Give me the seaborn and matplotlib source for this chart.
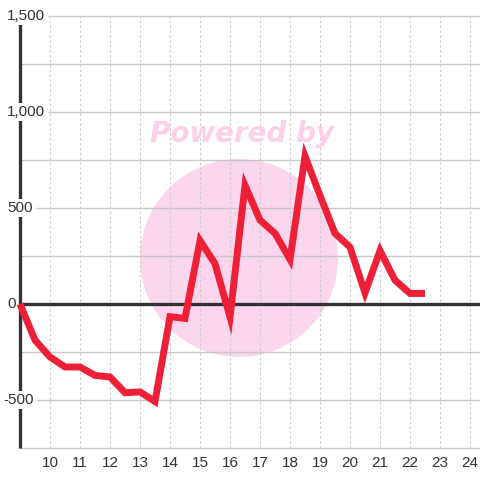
import matplotlib
matplotlib.use("Agg")
import matplotlib.pyplot as plt
import seaborn as sns
import pandas as pd
from matplotlib.patches import Circle
from matplotlib.transforms import blended_transform_factory

# ---- data ----
hours = [9, 9.5, 10, 10.5, 11, 11.5, 12, 12.5, 13, 13.5, 14, 14.5, 15, 15.5,
         16, 16.5, 17, 17.5, 18, 18.5, 19, 19.5, 20, 20.5, 21, 21.5, 22, 22.5]
values = [0, -188, -276, -328, -328, -372, -380, -462, -458, -508, -66, -75,
          330, 210, -68, 618, 437, 368, 232, 770, 565, 368, 296, 58, 278, 124, 55, 55]
x_ticks = list(range(10, 25))
x_tick_labels = [str(t) for t in x_ticks]
y_ticks = [-500, 0, 500, 1000, 1500]
y_tick_labels = ["-500", "0", "500", "1,000", "1,500"]
minor_levels = [-750, -250, 250, 750, 1250]

sns.set_theme(style="white")
plt.rcParams['font.family'] = ['Liberation Sans', 'DejaVu Sans']

W = H = 480
fig = plt.figure(figsize=(4.8, 4.8), dpi=100)
fig.patch.set_facecolor("white")
ax = fig.add_axes([20 / W, 32 / H, 460 / W, 432 / H])
ax.set_facecolor("white")
xmin, xmax = 9, 9 + 460 / 30
ax.set_xlim(xmin, xmax)
ax.set_ylim(-750, 1500)
for s in ax.spines.values():
    s.set_visible(False)

# watermark
ax.add_patch(Circle((239 / W, 1 - 258 / H), 99 / W, transform=fig.transFigure,
                    facecolor="#fcd6ec", edgecolor="none", zorder=0, clip_on=False))
fig.text(242 / W, 1 - 134 / H, "Powered by", ha="center", va="center",
         fontsize=20, fontweight="bold", fontstyle="italic", color="#fcd0e8",
         family="DejaVu Sans", zorder=0)

grid_c = "#c8c8c8"
# vertical dashed grid
ax.vlines(x_ticks, -750, 1500, colors="#cccccc", linestyles=(0, (2.2, 2.2)), lw=0.8, zorder=1)
# minor horizontal grid from spine
ax.hlines(minor_levels, xmin, xmax, colors=grid_c, lw=1, zorder=1, clip_on=False)

# data line
df = pd.DataFrame({"hour": hours, "value": values})
sns.lineplot(data=df, x="hour", y="value", ax=ax, color="#ee2038", lw=5, zorder=4)
for ln in ax.get_lines():
    ln.set_solid_joinstyle("miter")
    ln.set_solid_capstyle("butt")
    ln.set_clip_on(False)

# spine and zero line
ax.vlines(xmin, -750, 1500, colors="#333333", lw=2.4, zorder=3, clip_on=False)
ax.hlines(0, xmin, xmax, colors="#333333", lw=2.4, zorder=3, clip_on=False)

# y labels
tr = blended_transform_factory(fig.transFigure, ax.transData)
labels = []
for v, lab in zip(y_ticks, y_tick_labels):
    xpos = (3 if lab.startswith("-") else 7) / W
    t = ax.text(xpos, v, lab, transform=tr, ha="left", va="center", fontsize=11,
                color="#333333", zorder=6, clip_on=False,
                bbox=dict(boxstyle="square,pad=0.12", facecolor="white", edgecolor="none"))
    labels.append((v, t))

fig.canvas.draw()
renderer = fig.canvas.get_renderer()
inv = ax.transData.inverted()
for v, t in labels:
    if v == 0:
        continue
    bb = t.get_window_extent(renderer)
    x0 = inv.transform((bb.x1 + 3, 0))[0]
    ax.hlines(v, x0, xmax, colors=grid_c, lw=1, zorder=2, clip_on=False)

ax.set_xticks(x_ticks)
ax.set_xticklabels(x_tick_labels)
ax.tick_params(axis="x", length=0, pad=6, labelsize=11, labelcolor="#333333")
ax.tick_params(axis="y", left=False, labelleft=False)
ax.set_xlabel("")
ax.set_ylabel("")

fig.savefig("out.png", dpi=100)
